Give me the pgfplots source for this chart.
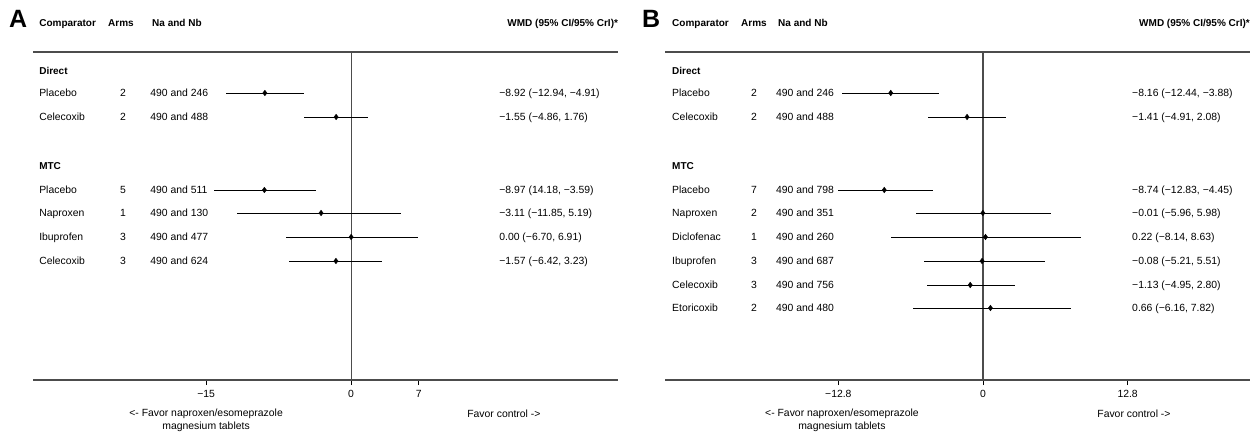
\documentclass[border=0pt]{standalone}
\usepackage{pgfplots}
\pgfplotsset{compat=1.18}
\usepackage{fontspec}
\setmainfont{Liberation Sans}
\definecolor{axisgray}{gray}{0.3}

\pgfplotsset{
  forest/.style={
    scale only axis, width=585pt, height=380pt,
    ymin=57, ymax=437, clip=false,
    axis x line=bottom, axis y line=none,
    x axis line style={-, draw=axisgray, line width=1.1pt},
    tick align=outside, major tick length=5pt,
    every tick/.style={black, line width=0.8pt},
    xticklabel style={yshift=-1.5pt},
    ytick=\empty,
  },
  ci/.style={only marks, mark=diamond*, mark size=2.8pt, black,
    error bars/.cd, x dir=both, x explicit, error mark=none,
    error bar style={black, line width=0.9pt}},
}

\tikzset{
  txt/.style={anchor=base west, inner sep=0pt, yshift=-3.7pt},
  txtc/.style={anchor=base, inner sep=0pt, yshift=-3.7pt},
  txte/.style={anchor=base east, inner sep=0pt, yshift=-3.7pt},
  hd/.style={font=\bfseries},
}

\begin{document}
\begin{tikzpicture}[font=\fontsize{10.4pt}{12.5pt}\selectfont]
\useasboundingbox (0,0) rectangle (1254pt,437pt);

% ---------- panel A ----------
\begin{axis}[forest, at={(33pt,57pt)}, anchor=south west,
  xmin=-32.9, xmax=27.6, xtick={-15,0,7}, xticklabels={−15,0,7}]
  \addplot[axisgray, line width=1.1pt] coordinates {(-32.9,385) (27.6,385)};
  \addplot[axisgray, line width=1.1pt] coordinates {(0,57) (0,385)};
  % Direct
  \addplot[ci] coordinates {
    (-8.92,344) += (4.01,0) -= (4.02,0)
    (-1.55,320) += (3.31,0) -= (3.31,0)
  };
  % MTC
  \addplot[ci] coordinates {
    (-8.97,247) += (5.38,0) -= (5.21,0)
    (-3.11,224) += (8.30,0) -= (8.74,0)
    (0.00,200)  += (6.91,0) -= (6.70,0)
    (-1.57,176) += (4.80,0) -= (4.85,0)
  };

  \node[anchor=west, inner sep=0pt, font=\fontsize{25pt}{25pt}\bfseries\selectfont] at (axis cs:-35.4,418) {A};
  \node[txt,hd] at (axis cs:-32.27,414) {Comparator};
  \node[txt,hd] at (axis cs:-25.14,414) {Arms};
  \node[txt,hd] at (axis cs:-20.59,414) {Na and Nb};
  \node[txte,hd] at (axis cs:27.62,414) {WMD (95\% CI/95\% CrI)*};

  \node[txt,hd] at (axis cs:-32.27,366) {Direct};
  \node[txt] at (axis cs:-32.27,344) {Placebo};
  \node[txtc] at (axis cs:-23.59,344) {2};
  \node[txt] at (axis cs:-20.79,344) {490 and 246};
  \node[txt] at (axis cs:15.31,344) {−8.92 (−12.94, −4.91)};
  \node[txt] at (axis cs:-32.27,320) {Celecoxib};
  \node[txtc] at (axis cs:-23.59,320) {2};
  \node[txt] at (axis cs:-20.79,320) {490 and 488};
  \node[txt] at (axis cs:15.31,320) {−1.55 (−4.86, 1.76)};

  \node[txt,hd] at (axis cs:-32.27,271) {MTC};
  \node[txt] at (axis cs:-32.27,247) {Placebo};
  \node[txtc] at (axis cs:-23.59,247) {5};
  \node[txt] at (axis cs:-20.79,247) {490 and 511};
  \node[txt] at (axis cs:15.31,247) {−8.97 (14.18, −3.59)};
  \node[txt] at (axis cs:-32.27,224) {Naproxen};
  \node[txtc] at (axis cs:-23.59,224) {1};
  \node[txt] at (axis cs:-20.79,224) {490 and 130};
  \node[txt] at (axis cs:15.31,224) {−3.11 (−11.85, 5.19)};
  \node[txt] at (axis cs:-32.27,200) {Ibuprofen};
  \node[txtc] at (axis cs:-23.59,200) {3};
  \node[txt] at (axis cs:-20.79,200) {490 and 477};
  \node[txt] at (axis cs:15.31,200) {0.00 (−6.70, 6.91)};
  \node[txt] at (axis cs:-32.27,176) {Celecoxib};
  \node[txtc] at (axis cs:-23.59,176) {3};
  \node[txt] at (axis cs:-20.79,176) {490 and 624};
  \node[txt] at (axis cs:15.31,176) {−1.57 (−6.42, 3.23)};

  \node[align=center, inner sep=0pt] at (axis cs:-15,16.5) {<- Favor naproxen/esomeprazole\\magnesium tablets};
  \node[inner sep=0pt] at (axis cs:15.8,23) {Favor control ->};
\end{axis}

% ---------- panel B ----------
\begin{axis}[forest, at={(665pt,57pt)}, anchor=south west,
  xmin=-28.14, xmax=23.63, xtick={-12.8,0,12.8}, xticklabels={−12.8,0,12.8}]
  \addplot[axisgray, line width=1.1pt] coordinates {(-28.14,385) (23.63,385)};
  \addplot[axisgray, line width=1.1pt] coordinates {(0,57) (0,385)};
  % Direct
  \addplot[ci] coordinates {
    (-8.16,344) += (4.28,0) -= (4.28,0)
    (-1.41,320) += (3.49,0) -= (3.50,0)
  };
  % MTC
  \addplot[ci] coordinates {
    (-8.74,247) += (4.29,0) -= (4.09,0)
    (-0.01,224) += (5.99,0) -= (5.95,0)
    (0.22,200)  += (8.41,0) -= (8.36,0)
    (-0.08,176) += (5.59,0) -= (5.13,0)
    (-1.13,152) += (3.93,0) -= (3.82,0)
    (0.66,129)  += (7.16,0) -= (6.82,0)
  };

  \node[anchor=west, inner sep=0pt, font=\fontsize{25pt}{25pt}\bfseries\selectfont] at (axis cs:-30.18,418) {B};
  \node[txt,hd] at (axis cs:-27.52,414) {Comparator};
  \node[txt,hd] at (axis cs:-21.42,414) {Arms};
  \node[txt,hd] at (axis cs:-18.14,414) {Na and Nb};
  \node[txte,hd] at (axis cs:23.63,414) {WMD (95\% CI/95\% CrI)*};

  \node[txt,hd] at (axis cs:-27.52,366) {Direct};
  \node[txt] at (axis cs:-27.52,344) {Placebo};
  \node[txtc] at (axis cs:-20.27,344) {2};
  \node[txt] at (axis cs:-18.32,344) {490 and 246};
  \node[txt] at (axis cs:13.19,344) {−8.16 (−12.44, −3.88)};
  \node[txt] at (axis cs:-27.52,320) {Celecoxib};
  \node[txtc] at (axis cs:-20.27,320) {2};
  \node[txt] at (axis cs:-18.32,320) {490 and 488};
  \node[txt] at (axis cs:13.19,320) {−1.41 (−4.91, 2.08)};

  \node[txt,hd] at (axis cs:-27.52,271) {MTC};
  \node[txt] at (axis cs:-27.52,247) {Placebo};
  \node[txtc] at (axis cs:-20.27,247) {7};
  \node[txt] at (axis cs:-18.32,247) {490 and 798};
  \node[txt] at (axis cs:13.19,247) {−8.74 (−12.83, −4.45)};
  \node[txt] at (axis cs:-27.52,224) {Naproxen};
  \node[txtc] at (axis cs:-20.27,224) {2};
  \node[txt] at (axis cs:-18.32,224) {490 and 351};
  \node[txt] at (axis cs:13.19,224) {−0.01 (−5.96, 5.98)};
  \node[txt] at (axis cs:-27.52,200) {Diclofenac};
  \node[txtc] at (axis cs:-20.27,200) {1};
  \node[txt] at (axis cs:-18.32,200) {490 and 260};
  \node[txt] at (axis cs:13.19,200) {0.22 (−8.14, 8.63)};
  \node[txt] at (axis cs:-27.52,176) {Ibuprofen};
  \node[txtc] at (axis cs:-20.27,176) {3};
  \node[txt] at (axis cs:-18.32,176) {490 and 687};
  \node[txt] at (axis cs:13.19,176) {−0.08 (−5.21, 5.51)};
  \node[txt] at (axis cs:-27.52,152) {Celecoxib};
  \node[txtc] at (axis cs:-20.27,152) {3};
  \node[txt] at (axis cs:-18.32,152) {490 and 756};
  \node[txt] at (axis cs:13.19,152) {−1.13 (−4.95, 2.80)};
  \node[txt] at (axis cs:-27.52,129) {Etoricoxib};
  \node[txtc] at (axis cs:-20.27,129) {2};
  \node[txt] at (axis cs:-18.32,129) {490 and 480};
  \node[txt] at (axis cs:13.19,129) {0.66 (−6.16, 7.82)};

  \node[align=center, inner sep=0pt] at (axis cs:-12.48,16.5) {<- Favor naproxen/esomeprazole\\magnesium tablets};
  \node[inner sep=0pt] at (axis cs:13.36,23) {Favor control ->};
\end{axis}
\end{tikzpicture}
\end{document}
